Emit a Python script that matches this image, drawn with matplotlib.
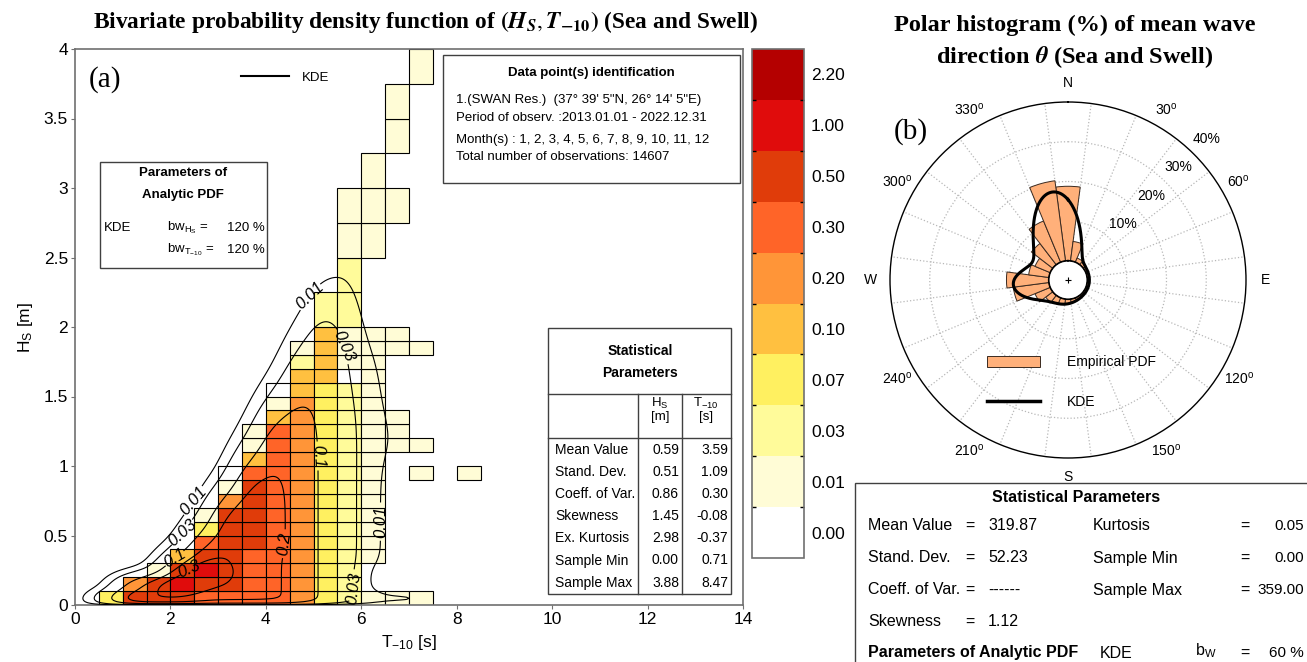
import numpy as np
import matplotlib
matplotlib.use("Agg")
import matplotlib.pyplot as plt
from matplotlib.colors import ListedColormap, BoundaryNorm
from matplotlib.patches import Rectangle, Patch
from matplotlib.lines import Line2D
from matplotlib.colorbar import ColorbarBase

plt.rcParams['font.family'] = ['Liberation Sans', 'DejaVu Sans']
plt.rcParams['mathtext.fontset'] = 'custom'
plt.rcParams['mathtext.rm'] = 'Liberation Sans'
plt.rcParams['mathtext.it'] = 'Liberation Sans:italic'
plt.rcParams['mathtext.bf'] = 'Liberation Sans:bold'

# ---------------------------------------------------------------- data
# bin edges of the joint histogram
period_edges = [0.0, 0.5, 1.0, 1.5, 2.0, 2.5, 3.0, 3.5, 4.0, 4.5,
                5.0, 5.5, 6.0, 6.5, 7.0, 7.5, 8.0, 8.5]
height_edges = [0.0, 0.1, 0.2, 0.3, 0.4, 0.5, 0.6, 0.7, 0.8, 0.9, 1.0,
                1.1, 1.2, 1.3, 1.4, 1.5, 1.6, 1.7, 1.8, 1.9, 2.0,
                2.25, 2.5, 2.75, 3.0, 3.25, 3.5, 3.75, 4.0]

# density classes of the colour scale
class_values = [0.00, 0.01, 0.03, 0.07, 0.10, 0.20, 0.30, 0.50, 1.00, 2.20]
class_colors = ['#ffffff', '#fffcd6', '#fffb9a', '#fff060', '#ffc040',
                '#ff9538', '#ff6428', '#e03c0a', '#e00c0c', '#b40000']
# representative density of each class used by the kernel estimate
class_kde_density = [0.003, 0.012, 0.035, 0.07, 0.10, 0.15, 0.22, 0.30, 0.50, 1.00]

# empirical joint density class (rows: top H bin first; columns: T bins)
_ = None
density_rows = [
    [_, _, _, _, _, _, _, _, _, _, _, _, _, _, .01, _, _],           # 3.75-4.00
    [_, _, _, _, _, _, _, _, _, _, _, _, _, .01, _, _, _],           # 3.50-3.75
    [_, _, _, _, _, _, _, _, _, _, _, _, _, .01, _, _, _],           # 3.25-3.50
    [_, _, _, _, _, _, _, _, _, _, _, _, .01, _, _, _, _],           # 3.00-3.25
    [_, _, _, _, _, _, _, _, _, _, _, .01, .01, .01, _, _, _],       # 2.75-3.00
    [_, _, _, _, _, _, _, _, _, _, _, .01, .01, _, _, _, _],         # 2.50-2.75
    [_, _, _, _, _, _, _, _, _, _, _, .03, _, _, _, _, _],           # 2.25-2.50
    [_, _, _, _, _, _, _, _, _, _, .03, .03, _, _, _, _, _],         # 2.00-2.25
    [_, _, _, _, _, _, _, _, _, _, .1, .01, .01, .01, _, _, _],      # 1.9
    [_, _, _, _, _, _, _, _, _, .01, .1, .01, .01, .01, .01, _, _],  # 1.8
    [_, _, _, _, _, _, _, _, _, .03, .1, .01, .01, _, _, _, _],      # 1.7
    [_, _, _, _, _, _, _, _, _, .1, .1, 0, .01, _, _, _, _],         # 1.6
    [_, _, _, _, _, _, _, _, 0, .1, .07, .03, .01, _, _, _, _],      # 1.5
    [_, _, _, _, _, _, _, _, .01, .2, .07, .03, .01, _, _, _, _],    # 1.4
    [_, _, _, _, _, _, _, _, .1, .2, .07, .03, .01, .01, _, _, _],   # 1.3
    [_, _, _, _, _, _, _, .01, .3, .2, .07, .03, .01, .01, _, _, _], # 1.2
    [_, _, _, _, _, _, _, .01, .3, .2, .07, .03, .01, .01, .01, _, _],  # 1.1
    [_, _, _, _, _, _, _, .1, .3, .2, .07, .03, .01, _, _, _, _],    # 1.0
    [_, _, _, _, _, _, 0, .3, .3, .2, .07, .03, .01, _, .01, _, .01],   # 0.9
    [_, _, _, _, _, _, .01, .5, .3, .2, .07, .03, .01, _, _, _, _],  # 0.8
    [_, _, _, _, _, _, .2, .5, .3, .2, .07, .03, .01, _, _, _, _],   # 0.7
    [_, _, _, _, _, .01, .5, .5, .3, .2, .07, .03, .01, _, _, _, _], # 0.6
    [_, _, _, _, _, .07, .5, .5, .3, .2, .07, .03, .01, _, _, _, _], # 0.5
    [_, _, _, _, _, .3, .5, .5, .3, .2, .07, .03, .01, _, _, _, _],  # 0.4
    [_, _, _, _, .1, .5, .5, .3, .3, .2, .07, .03, .01, _, _, _, _], # 0.3
    [_, _, _, .01, .5, 1, .5, .3, .3, .2, .07, .03, _, _, _, _, _],  # 0.2
    [_, _, .2, .5, 1, .5, .5, .3, .3, .2, .07, .03, _, _, _, _, _],  # 0.1
    [_, .07, .5, .5, .5, .3, .3, .3, .3, .2, .07, .03, .01, .01, .01, _, _],  # 0.0
]

contour_levels = [0.01, 0.03, 0.1, 0.2, 0.3]
kde_bw_period = 0.32   # s
kde_bw_logh = 0.12     # bandwidth on log(H + kde_h_shift)
kde_h_shift = 0.2      # m
nominal_dh = 0.1       # m, height of a nominal histogram bin

# mean wave direction histogram (% per 15 deg sector)
direction_centers = [0, 15, 30, 45, 60, 75, 90, 105, 120, 135, 150, 165,
                     180, 195, 210, 225, 240, 255, 270, 285, 300, 315, 330, 345]
direction_pct = [18.8, 5.0, 1.2, 0.8, 0.6, 0.6, 0.6, 0.6, 0.6, 0.6, 0.7, 0.9,
                 1.2, 1.5, 1.8, 2.3, 4.2, 9.1, 10.7, 5.2, 4.2, 6.8, 11.3, 20.4]
direction_bw = 12.0  # deg

hs_stats = ['0.59', '0.51', '0.86', '1.45', '2.98', '0.00', '3.88']
t10_stats = ['3.59', '1.09', '0.30', '-0.08', '-0.37', '0.71', '8.47']
stat_names = ['Mean Value', 'Stand. Dev.', 'Coeff. of Var.', 'Skewness',
              'Ex. Kurtosis', 'Sample Min', 'Sample Max']

# ---------------------------------------------------------------- figure
W_PX, H_PX = 1307, 662
fig = plt.figure(figsize=(W_PX / 100, H_PX / 100), dpi=100)


def fx(x):
    return x / W_PX


def fy(y):
    return 1 - y / H_PX


def ftext(x, y, s, **kw):
    kw.setdefault('va', 'center')
    return fig.text(fx(x), fy(y), s, **kw)


def fbox(x0, y0, x1, y1, lw=1.0, ec='#404040'):
    fig.add_artist(Rectangle((fx(x0), fy(y1)), fx(x1) - fx(x0), fy(y0) - fy(y1),
                             transform=fig.transFigure, facecolor='white',
                             edgecolor=ec, lw=lw, zorder=5))


def fline(x0, y0, x1, y1, lw=1.0, color='#404040'):
    fig.add_artist(Line2D([fx(x0), fx(x1)], [fy(y0), fy(y1)],
                          transform=fig.transFigure, color=color, lw=lw, zorder=6))


# ----------------------------------------------------- joint histogram
ax = fig.add_axes([fx(75), fy(605), fx(743) - fx(75), fy(49) - fy(605)])
rows_bottom_up = density_rows[::-1]
pe = np.array(period_edges)
he = np.array(height_edges)
cls = np.array(class_values)
kde_w = np.array(class_kde_density)

NT_SUB, NH_SUB = 5, 6
pts_t, pts_h, pts_w = [], [], []
for i, row in enumerate(rows_bottom_up):
    h0, h1 = he[i], he[i + 1]
    for j, v in enumerate(row):
        if v is None:
            continue
        k = int(np.argmin(np.abs(cls - v)))
        ax.bar(pe[j], h1 - h0, width=pe[j + 1] - pe[j], bottom=h0, align='edge',
               color=class_colors[k], edgecolor='black', linewidth=0.8, zorder=2)
        # spread the cell mass over sub-points for the kernel estimate
        ts = pe[j] + (np.arange(NT_SUB) + 0.5) / NT_SUB * (pe[j + 1] - pe[j])
        hs = h0 + (np.arange(NH_SUB) + 0.5) / NH_SUB * (h1 - h0)
        TT, HH = np.meshgrid(ts, hs)
        pts_t.extend(TT.ravel())
        pts_h.extend(HH.ravel())
        mass = kde_w[k] * (pe[j + 1] - pe[j]) * min(h1 - h0, nominal_dh)
        pts_w.extend([mass / (NT_SUB * NH_SUB)] * (NT_SUB * NH_SUB))

pts_t = np.array(pts_t)
pts_h = np.array(pts_h)
pts_w = np.array(pts_w)

tg = np.linspace(0, 10, 401)
hg = np.linspace(0, 4, 501)


def gauss(d, s):
    return np.exp(-0.5 * (d / s) ** 2) / (s * np.sqrt(2 * np.pi))


# kernel estimate in (T, log(H + shift)), reflected at H = 0
u_pts = np.log(pts_h + kde_h_shift)
u_grid = np.log(hg + kde_h_shift)
u0 = np.log(kde_h_shift)
GT = gauss(tg[:, None] - pts_t[None, :], kde_bw_period)
GU = gauss(u_grid[:, None] - u_pts[None, :], kde_bw_logh) - \
    gauss(u_grid[:, None] + u_pts[None, :] - 2 * u0, kde_bw_logh)
dens = ((GU * pts_w[None, :]) @ GT.T) / (hg + kde_h_shift)[:, None]

cs = ax.contour(tg, hg, dens, levels=contour_levels, colors='black',
                linewidths=0.8, zorder=4)

# preferred spots for the inline labels of each level; each spot is snapped
# onto its own level's line before labelling
label_spots = {0.01: [(5.3, 2.13), (2.34, 0.78), (6.5, 0.6)],
               0.03: [(5.3, 1.83), (1.99, 0.59), (5.9, 0.12)],
               0.1: [(5.0, 1.07), (1.89, 0.42)],
               0.2: [(4.44, 0.44)],
               0.3: [(2.24, 0.33)]}
px_per_t, px_per_h = 668 / 14.0, 556 / 4.0
snapped = []
for li, lev in enumerate(contour_levels):
    segs = [s for s in cs.allsegs[li] if len(s) > 1]
    if not segs:
        continue
    verts = np.vstack(segs)
    for (sx, sy) in label_spots.get(lev, []):
        d = ((verts[:, 0] - sx) * px_per_t) ** 2 + ((verts[:, 1] - sy) * px_per_h) ** 2
        snapped.append(tuple(verts[int(np.argmin(d))]))
try:
    ax.clabel(cs, fmt='%g', fontsize=12, inline=True, inline_spacing=3,
              manual=snapped)
except Exception:
    ax.clabel(cs, fmt='%g', fontsize=12, inline=True, inline_spacing=3)
for t in ax.texts:
    t.set_fontstyle('italic')

ax.plot([], [], color='black', lw=1.5, label='KDE')
ax.legend(loc='center left', bbox_to_anchor=((241 - 75) / 668, 1 - (77.7 - 49) / 556),
          frameon=False, fontsize=9.5, handlelength=3.6, handletextpad=1.0,
          borderpad=0, borderaxespad=0)

ax.set_xlim(0, 14)
ax.set_ylim(0, 4)
ax.set_xticks(np.arange(0, 15, 2))
ax.set_yticks(np.arange(0, 4.01, 0.5))
ax.set_yticklabels(['0', '0.5', '1', '1.5', '2', '2.5', '3', '3.5', '4'])
ax.tick_params(labelsize=12.5, length=3, direction='out', color='#707070', pad=2)
for sp in ax.spines.values():
    sp.set_color('#707070')
    sp.set_linewidth(1.2)
ax.set_xlabel(r'T$_{-10}$ [s]', fontsize=12.5, labelpad=4)
ax.set_ylabel(r'H$_{\mathrm{S}}$ [m]', fontsize=12.5, labelpad=6)

# title
fig.text(fx(426), fy(22),
         r'Bivariate probability density function of $\mathbf{(}\mathbfit{H_S},\mathbfit{T}_{\mathbf{-10}}\mathbf{)}$ (Sea and Swell)',
         fontfamily='Liberation Serif', fontweight='bold', fontsize=16.8,
         ha='center', va='center', math_fontfamily='stix')
ftext(105, 80, '(a)', fontfamily='Liberation Serif', fontsize=21, ha='center')

# parameters box
fbox(100, 162, 267, 268)
ftext(183, 173, 'Parameters of', fontweight='bold', fontsize=9.5, ha='center', zorder=7)
ftext(183, 195, 'Analytic PDF', fontweight='bold', fontsize=9.5, ha='center', zorder=7)
ftext(104, 228, 'KDE', fontsize=9.5, zorder=7)
ftext(167, 228, r'bw$_{\mathrm{H}_{\mathrm{S}}}$ =', fontsize=9.5, zorder=7)
ftext(167, 250, r'bw$_{\mathrm{T}_{-10}}$ =', fontsize=9.5, zorder=7)
ftext(265, 228, '120 %', fontsize=9.5, ha='right', zorder=7)
ftext(265, 250, '120 %', fontsize=9.5, ha='right', zorder=7)

# data identification box
fbox(443, 55, 740, 183)
ftext(591, 73, 'Data point(s) identification', fontweight='bold', fontsize=9.5,
      ha='center', zorder=7)
ftext(456, 100, '1.(SWAN Res.)  (37\u00b0 39\' 5"N, 26\u00b0 14\' 5"E)', fontsize=9.5, zorder=7)
ftext(456, 118, 'Period of observ. :2013.01.01 - 2022.12.31', fontsize=9.5, zorder=7)
ftext(456, 140, 'Month(s) : 1, 2, 3, 4, 5, 6, 7, 8, 9, 10, 11, 12', fontsize=9.5, zorder=7)
ftext(456, 157, 'Total number of observations: 14607', fontsize=9.5, zorder=7)

# statistics table
fbox(548, 328, 731, 594)
fline(548, 394, 731, 394)
fline(548, 438, 731, 438)
fline(638, 394, 638, 594)
fline(682, 394, 682, 594)
ftext(640, 351, 'Statistical', fontweight='bold', fontsize=10, ha='center', zorder=7)
ftext(640, 373, 'Parameters', fontweight='bold', fontsize=10, ha='center', zorder=7)
ftext(660, 403, r'H$_{\mathrm{S}}$', fontsize=9.5, ha='center', zorder=7)
ftext(660, 417, '[m]', fontsize=9.5, ha='center', zorder=7)
ftext(706, 403, r'T$_{-10}$', fontsize=9.5, ha='center', zorder=7)
ftext(706, 417, '[s]', fontsize=9.5, ha='center', zorder=7)
for r, (nm, a, b) in enumerate(zip(stat_names, hs_stats, t10_stats)):
    yy = 450 + 22.1 * r
    ftext(555, yy, nm, fontsize=10, zorder=7)
    ftext(679, yy, a, fontsize=10, ha='right', zorder=7)
    ftext(728, yy, b, fontsize=10, ha='right', zorder=7)

# ---------------------------------------------------------------- colour bar
cax = fig.add_axes([fx(752), fy(558), fx(804) - fx(752), fy(49) - fy(558)])
cmap = ListedColormap(class_colors)
norm = BoundaryNorm(np.arange(len(class_colors) + 1), len(class_colors))
cb = ColorbarBase(cax, cmap=cmap, norm=norm, orientation='vertical')
cb.set_ticks(np.arange(len(class_values)) + 0.5)
cb.set_ticklabels(['%.2f' % v for v in class_values])
cax.tick_params(which='major', length=0, labelsize=12.5, pad=5)
cax.set_yticks(np.arange(1, len(class_values)), minor=True)
cax.tick_params(which='minor', length=3, direction='in', left=True, right=True,
                color='black', width=1)
cb.outline.set_edgecolor('#707070')
cb.outline.set_linewidth(1.2)

# ---------------------------------------------------------------- polar plot
cx, cy, R = 1068, 280, 178
hole = 19
rmax = 40.0
pax = fig.add_axes([fx(cx - R), fy(cy + R), fx(2 * R), (2 * R) / H_PX],
                   projection='polar')
pax.set_theta_zero_location('N')
pax.set_theta_direction(-1)
pax.set_rorigin(-hole / ((R - hole) / rmax))
pax.set_ylim(0, rmax)

theta_c = np.deg2rad(direction_centers)
pax.bar(theta_c, direction_pct, width=np.deg2rad(15), bottom=0,
        color='#ffb07a', edgecolor='#3a2a20', linewidth=0.7, zorder=2)

# circular kernel estimate of the direction distribution
th = np.arange(0, 360.5, 0.5)
dc = np.array(direction_centers, dtype=float)
dp = np.array(direction_pct)
diff = (th[:, None] - dc[None, :] + 180) % 360 - 180
kern = np.exp(-0.5 * (diff / direction_bw) ** 2)
norm_k = np.exp(-0.5 * (((dc - dc[0] + 180) % 360 - 180) / direction_bw) ** 2).sum()
kde_dir = (kern * dp[None, :]).sum(axis=1) / norm_k
pax.plot(np.deg2rad(th), kde_dir, color='black', lw=2.2, zorder=4)

pax.plot(np.deg2rad(th), np.zeros_like(th), color='black', lw=1.6, zorder=5)
pax.plot([0], [pax.get_rorigin()], marker='+', color='black', ms=4, mew=0.8,
         clip_on=False, zorder=5)

pax.set_xticks(np.deg2rad(np.arange(7.5, 360, 15)))
pax.set_xticklabels([])
pax.set_yticks([10, 20, 30])
pax.set_yticklabels([])
pax.grid(True, color='#b8b8b8', linestyle=':', linewidth=0.9)
pax.spines['polar'].set_color('black')
pax.spines['polar'].set_linewidth(1.0)
if 'inner' in pax.spines:
    pax.spines['inner'].set_visible(False)

r_lab = 44.8
for ang, txt in [(0, 'N'), (90, 'E'), (180, 'S'), (270, 'W')]:
    pax.text(np.deg2rad(ang), r_lab, txt, ha='center', va='center', fontsize=10)
for ang in [30, 60, 120, 150, 210, 240, 300, 330]:
    pax.text(np.deg2rad(ang), r_lab, r'%d$^{\mathrm{o}}$' % ang, ha='center',
             va='center', fontsize=10)
for p in [10, 20, 30, 40]:
    pax.text(np.deg2rad(44.5), p + 5.0, '%d%%' % p, ha='center', va='center',
             fontsize=10)

pax.legend(handles=[Patch(facecolor='#ffb07a', edgecolor='#3a2a20', lw=0.7),
                    Line2D([], [], color='black', lw=2.5)],
           labels=['Empirical PDF', 'KDE'], loc='center',
           bbox_to_anchor=(0.51, 0.213), frameon=False, fontsize=10,
           handlelength=3.8, handleheight=0.9, handletextpad=2.0, labelspacing=1.85)

fig.text(fx(1075), fy(25), 'Polar histogram (%) of mean wave',
         fontfamily='Liberation Serif', fontweight='bold', fontsize=17.5,
         ha='center', va='center')
fig.text(fx(1075), fy(57), r'direction $\mathbfit{\theta}$ (Sea and Swell)',
         fontfamily='Liberation Serif', fontweight='bold', fontsize=17.5,
         ha='center', va='center', math_fontfamily='stix')
ftext(911, 132, '(b)', fontfamily='Liberation Serif', fontsize=21, ha='center')

# direction statistics box
fbox(855, 483, 1320, 680)
ftext(1076, 497, 'Statistical Parameters', fontweight='bold', fontsize=11.5,
      ha='center', zorder=7)
left_rows = [('Mean Value', '319.87'), ('Stand. Dev.', '52.23'),
             ('Coeff. of Var.', '------'), ('Skewness', '1.12')]
right_rows = [('Kurtosis', '0.05'), ('Sample Min', '0.00'), ('Sample Max', '359.00')]
for r, (nm, val) in enumerate(left_rows):
    yy = 526 + 32 * r
    ftext(868, yy, nm, fontsize=11.5, zorder=7)
    ftext(970, yy, '=', fontsize=11.5, ha='center', zorder=7)
    ftext(988, yy, val, fontsize=11.5, zorder=7)
for r, (nm, val) in enumerate(right_rows):
    yy = 526 + 32 * r
    ftext(1093, yy, nm, fontsize=11.5, zorder=7)
    ftext(1245, yy, '=', fontsize=11.5, ha='center', zorder=7)
    ftext(1304, yy, val, fontsize=11, ha='right', zorder=7)
ftext(868, 653, 'Parameters of Analytic PDF', fontweight='bold', fontsize=11.5, zorder=7)
ftext(1100, 653, 'KDE', fontsize=11.5, zorder=7)
ftext(1195, 651, r'b$_{\mathrm{W}}$', fontsize=11.5, zorder=7)
ftext(1245, 653, '=', fontsize=11.5, ha='center', zorder=7)
ftext(1304, 653, '60 %', fontsize=11, ha='right', zorder=7)

fig.savefig('out.png', dpi=100)
